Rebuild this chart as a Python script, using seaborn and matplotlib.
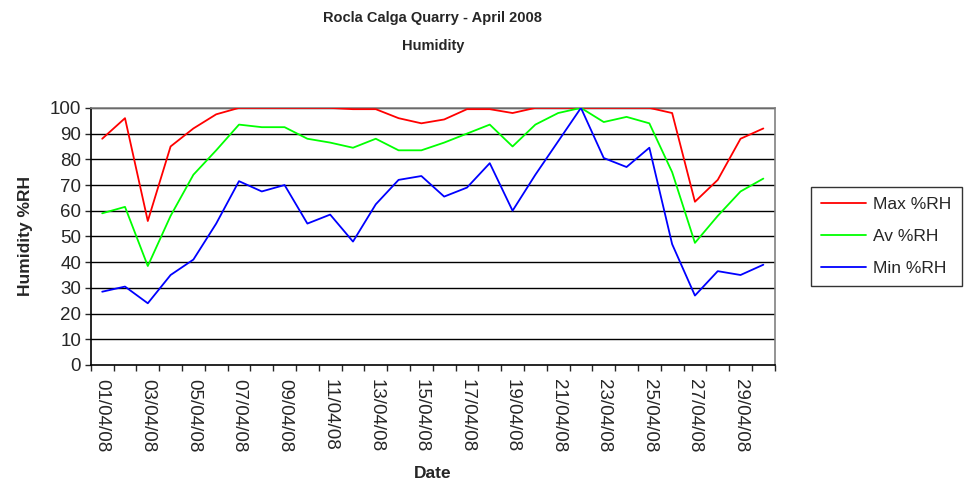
import numpy as np
import pandas as pd
import matplotlib
matplotlib.use("Agg")
import matplotlib.pyplot as plt
import seaborn as sns

sns.set_style("white")
plt.rcParams['font.family'] = ['Liberation Sans', 'DejaVu Sans']

dates = ["%02d/04/08" % d for d in range(1, 31)]

max_rh = [88, 96, 56, 85, 92, 97.5, 100, 100, 100, 100, 100, 99.5, 99.5, 96, 94,
          95.5, 99.5, 99.5, 98, 100, 100, 100, 100, 100, 100, 98, 63.5, 72, 88, 92]
av_rh = [59, 61.5, 38.5, 58, 74, 83.5, 93.5, 92.5, 92.5, 88, 86.5, 84.5, 88, 83.5, 83.5,
         86.5, 90, 93.5, 85, 93.5, 98, 100, 94.5, 96.5, 94, 75, 47.5, 58, 67.5, 72.5]
min_rh = [28.5, 30.5, 24, 35, 41, 55, 71.5, 67.5, 70, 55, 58.5, 48, 62.5, 72, 73.5,
          65.5, 69, 78.5, 60, 74, 87, 100, 80.5, 77, 84.5, 47, 27, 36.5, 35, 39]

df = pd.DataFrame({"idx": np.arange(len(dates)), "Max %RH": max_rh,
                   "Av %RH": av_rh, "Min %RH": min_rh})
long = df.melt(id_vars="idx", var_name="series", value_name="rh")

fig = plt.figure(figsize=(9.66, 4.86), dpi=100)
ax = fig.add_axes([0.094, 0.249, 0.708, 0.529])

for y in range(10, 101, 10):
    ax.axhline(y, color="black", lw=1, zorder=1)

sns.lineplot(data=long, x="idx", y="rh", hue="series",
             palette={"Max %RH": "#ff0000", "Av %RH": "#00ff00", "Min %RH": "#0000ff"},
             lw=1.3, ax=ax, zorder=3)

ax.set_xlim(-0.5, len(dates) - 0.5)
ax.set_ylim(0, 100)
ax.set_yticks(range(0, 101, 10))
ax.set_xticks(range(0, len(dates), 2))
ax.set_xticklabels(dates[::2], rotation=-90)
ax.set_xticks(np.arange(-0.5, len(dates), 1), minor=True)
ax.tick_params(axis="x", which="major", length=0, labelsize=13.5, pad=10)
ax.tick_params(axis="x", which="minor", length=4, direction="out", width=1)
ax.tick_params(axis="y", length=4, direction="out", labelsize=13.5, width=1, pad=3)
ax.xaxis.set_ticks_position("bottom")
ax.yaxis.set_ticks_position("left")

for s in ["top", "right"]:
    ax.spines[s].set_color("#808080")
    ax.spines[s].set_linewidth(1.2)
for s in ["left", "bottom"]:
    ax.spines[s].set_color("black")
    ax.spines[s].set_linewidth(1.2)

ax.set_xlabel("Date", fontsize=12.5, fontweight="bold", labelpad=10)
ax.set_ylabel("Humidity %RH", fontsize=12.5, fontweight="bold", labelpad=12)
ax.set_title("Rocla Calga Quarry - April 2008\nHumidity", fontsize=10.5,
             fontweight="bold", pad=42, linespacing=2.2)

leg = ax.legend(loc="center left", bbox_to_anchor=(1.04, 0.5), frameon=True,
                fancybox=False, edgecolor="black", fontsize=12.5,
                handlelength=2.6, labelspacing=0.95, borderpad=0.6,
                handletextpad=0.4)
leg.get_frame().set_linewidth(1.0)

fig.savefig("out.png", dpi=100)
